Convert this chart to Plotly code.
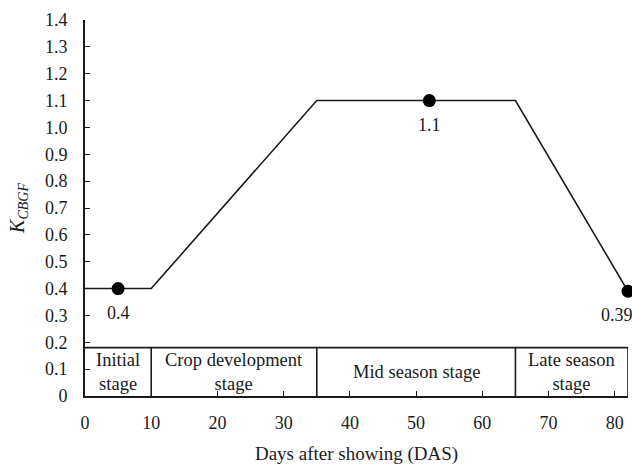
import plotly.graph_objects as go

# Crop coefficient curve (break points of the K_CBGF curve)
days = [0, 10, 35, 65, 82]
kc = [0.4, 0.4, 1.1, 1.1, 0.39]

# Representative points with labels
pt_days = [5, 52, 82]
pt_kc = [0.4, 1.1, 0.39]
pt_labels = ["0.4", "1.1", "0.39"]

# Growth stages (boundaries and names)
stage_bounds = [0, 10, 35, 65, 82]
stage_names = ["Initial<br>stage", "Crop development<br>stage", "Mid season stage", "Late season<br>stage"]
stage_top = 0.18

y_ticks = [round(0.1 * i, 1) for i in range(15)]
y_tick_text = ["0" if v == 0 else f"{v:.1f}" for v in y_ticks]
x_ticks = [0, 10, 20, 30, 40, 50, 60, 70, 80]

FONT = "Liberation Serif, Times New Roman, serif"
INK = "#1a1a1a"
FS = 18

fig = go.Figure()
fig.add_trace(go.Scatter(x=days, y=kc, mode="lines",
                         line=dict(color=INK, width=1.6), hoverinfo="skip"))
fig.add_trace(go.Scatter(x=pt_days, y=pt_kc, mode="markers",
                         marker=dict(color="black", size=13), cliponaxis=False))

shapes = [dict(type="line", xref="x", yref="y", x0=stage_bounds[0], x1=stage_bounds[-1],
               y0=stage_top, y1=stage_top, line=dict(color=INK, width=1.6))]
for b in stage_bounds[1:]:
    shapes.append(dict(type="line", xref="x", yref="y", x0=b, x1=b, y0=0, y1=stage_top,
                       line=dict(color=INK, width=1.6)))

annotations = []
for i, name in enumerate(stage_names):
    xm = (stage_bounds[i] + stage_bounds[i + 1]) / 2
    annotations.append(dict(x=xm, y=stage_top / 2, xref="x", yref="y", text=name,
                            showarrow=False, font=dict(family=FONT, size=18.5, color=INK)))
for x, y, t in zip(pt_days, pt_kc, pt_labels):
    annotations.append(dict(x=x, y=y, xref="x", yref="y", text=t, showarrow=False,
                            yshift=-24, xshift=-11 if t == "0.39" else 0,
                            font=dict(family=FONT, size=FS, color=INK)))

fig.update_layout(
    width=632, height=467,
    margin=dict(l=85, r=4, t=20, b=71),
    paper_bgcolor="white", plot_bgcolor="white",
    showlegend=False,
    font=dict(family=FONT, size=FS, color=INK),
    shapes=shapes, annotations=annotations,
    xaxis=dict(range=[0, 82], tickvals=x_ticks, ticks="inside", ticklen=5,
               tickcolor=INK, showline=True, linecolor=INK, linewidth=1.6,
               showgrid=False, zeroline=False, tickfont=dict(size=FS),
               ticklabelstandoff=10,
               title=dict(text="Days after showing (DAS)", font=dict(size=19), standoff=14)),
    yaxis=dict(range=[0, 1.4], tickvals=y_ticks, ticktext=y_tick_text, ticks="inside",
               ticklen=5, tickcolor=INK, showline=True, linecolor=INK, linewidth=1.6,
               showgrid=False, zeroline=False, tickfont=dict(size=FS),
               ticklabelstandoff=12,
               title=dict(text="<i>K<sub>CBGF</sub></i>", font=dict(size=20), standoff=15)),
)

fig.write_html("out.html")
